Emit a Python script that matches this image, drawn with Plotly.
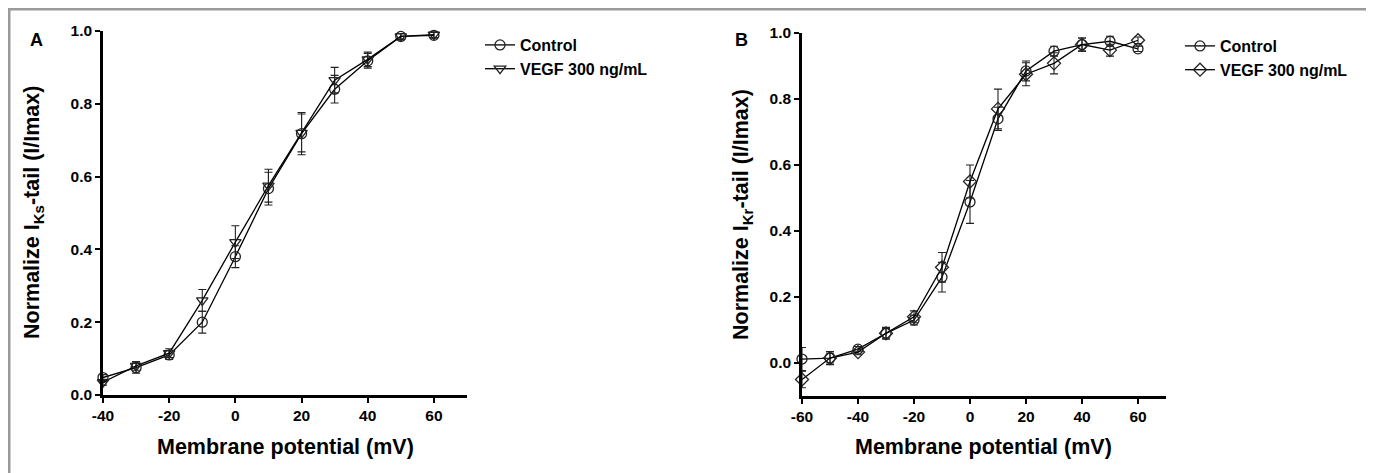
import plotly.graph_objects as go

# ---------------- Data ----------------
# Panel A: IKs tail
volt_a = [-40, -30, -20, -10, 0, 10, 20, 30, 40, 50, 60]
ctrl_a = [0.048, 0.075, 0.110, 0.200, 0.380, 0.567, 0.718, 0.840, 0.918, 0.985, 0.988]
ctrl_a_err = [0.008, 0.015, 0.012, 0.030, 0.030, 0.045, 0.058, 0.038, 0.020, 0.008, 0.008]
vegf_a = [0.035, 0.080, 0.115, 0.260, 0.420, 0.575, 0.720, 0.865, 0.922, 0.985, 0.990]
vegf_a_err = [0.008, 0.012, 0.012, 0.030, 0.045, 0.045, 0.052, 0.035, 0.020, 0.008, 0.008]

# Panel B: IKr tail
volt_b = [-60, -50, -40, -30, -20, -10, 0, 10, 20, 30, 40, 50, 60]
ctrl_b = [0.012, 0.015, 0.042, 0.090, 0.130, 0.260, 0.488, 0.740, 0.885, 0.945, 0.965, 0.975, 0.952]
ctrl_b_err = [0.035, 0.020, 0.008, 0.018, 0.015, 0.045, 0.065, 0.035, 0.030, 0.015, 0.020, 0.015, 0.008]
vegf_b = [-0.050, 0.015, 0.033, 0.090, 0.140, 0.290, 0.550, 0.770, 0.875, 0.908, 0.965, 0.948, 0.978]
vegf_b_err = [0.025, 0.015, 0.008, 0.015, 0.018, 0.045, 0.050, 0.060, 0.035, 0.032, 0.020, 0.018, 0.010]

y_ticks = [0.0, 0.2, 0.4, 0.6, 0.8, 1.0]
x_ticks_a = [-40, -20, 0, 20, 40, 60]
x_tick_text_a = ["-40", "-20", "0", "20", "40", "60"]
x_ticks_b = [-60, -40, -20, 0, 20, 40, 60]
x_tick_text_b = ["-60", "-40", "-20", "0", "20", "40", "60"]

labels = ["Control", "VEGF 300 ng/mL"]

W, H = 1374, 473
FONT = "Liberation Sans, Arial, sans-serif"
OFF = 8  # page body margin offset


def px_x(p):
    return (p - OFF) / W


def px_y(p):
    return 1 - (p - OFF) / H


fig = go.Figure()


def add_series(x, y, err, name, symbol, xa, ya, legend):
    fig.add_trace(go.Scatter(
        x=x, y=y, name=name, mode="lines+markers",
        xaxis=xa, yaxis=ya, legend=legend,
        line=dict(color="black", width=1.3),
        marker=dict(symbol=symbol, size=10, color="#222",
                    line=dict(color="#222", width=1.3)),
        error_y=dict(type="data", array=err, visible=True,
                     color="#222", thickness=1.1, width=4),
        cliponaxis=False,
    ))


add_series(volt_a, ctrl_a, ctrl_a_err, labels[0], "circle-open", "x", "y", "legend")
add_series(volt_a, vegf_a, vegf_a_err, labels[1], "triangle-down-open", "x", "y", "legend")
add_series(volt_b, ctrl_b, ctrl_b_err, labels[0], "circle-open", "x2", "y2", "legend2")
add_series(volt_b, vegf_b, vegf_b_err, labels[1], "diamond-open", "x2", "y2", "legend2")

axis_common = dict(
    showline=True, linecolor="black", linewidth=2.5,
    ticks="outside", ticklen=5, tickwidth=2, tickcolor="black",
    showgrid=False, zeroline=False, automargin=False,
    tickfont=dict(family=FONT, size=15.5, color="black", weight="bold"),
)

legend_font = dict(family=FONT, size=16, color="black", weight="bold")

fig.update_layout(
    width=W, height=H,
    margin=dict(l=0, r=0, t=0, b=0, autoexpand=False),
    paper_bgcolor="white", plot_bgcolor="white",
    font=dict(family=FONT, color="black"),
    xaxis=dict(domain=[px_x(103), px_x(467)], range=[-40, 70],
               tickvals=x_ticks_a, ticktext=x_tick_text_a, anchor="y", **axis_common),
    yaxis=dict(domain=[px_y(395), px_y(31)], range=[0, 1.0],
               tickvals=y_ticks, tickformat=".1f", anchor="x", **axis_common),
    xaxis2=dict(domain=[px_x(802), px_x(1166)], range=[-60, 70],
                tickvals=x_ticks_b, ticktext=x_tick_text_b, anchor="y2", **axis_common),
    yaxis2=dict(domain=[px_y(396), px_y(33)], range=[-0.1, 1.0],
                tickvals=y_ticks, tickformat=".1f", anchor="x2", **axis_common),
    legend=dict(x=px_x(480), y=px_y(28), xanchor="left", yanchor="top",
                bgcolor="rgba(0,0,0,0)", tracegroupgap=0, font=legend_font),
    legend2=dict(x=px_x(1180), y=px_y(29), xanchor="left", yanchor="top",
                 bgcolor="rgba(0,0,0,0)", tracegroupgap=0, font=legend_font),
    showlegend=True,
)

# Outer gray frame
fig.add_shape(type="rect", xref="paper", yref="paper",
              x0=px_x(9), x1=px_x(1369), y0=-0.05, y1=px_y(9),
              line=dict(color="#9a9a9a", width=3), fillcolor="rgba(0,0,0,0)",
              layer="below")

ann_font_title = dict(family=FONT, size=21.5, color="black", weight="bold")
label_font = dict(family=FONT, size=18, color="black", weight="bold")
annotations = [
    dict(text="A", x=px_x(36), y=px_y(40), font=label_font),
    dict(text="B", x=px_x(742), y=px_y(40), font=label_font),
    dict(text="Membrane potential (mV)", x=px_x(285), y=px_y(447), font=ann_font_title),
    dict(text="Membrane potential (mV)", x=px_x(984), y=px_y(447), font=ann_font_title),
    dict(text="Normalize I<sub>Ks</sub>-tail (I/Imax)", x=px_x(33), y=px_y(213),
         textangle=-90, font=ann_font_title),
    dict(text="Normalize I<sub>Kr</sub>-tail (I/Imax)", x=px_x(742), y=px_y(214),
         textangle=-90, font=ann_font_title),
]
for a in annotations:
    fig.add_annotation(xref="paper", yref="paper", showarrow=False,
                       xanchor="center", yanchor="middle", **a)

fig.write_html("out.html")
